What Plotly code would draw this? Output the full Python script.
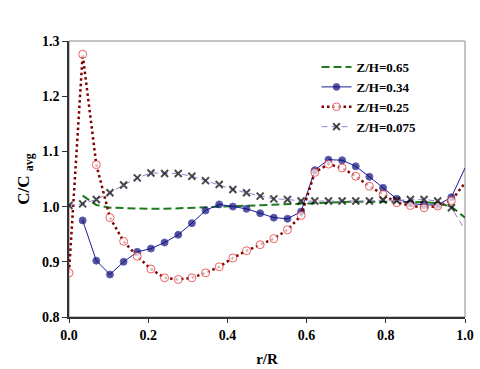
import plotly.graph_objs as go

# radial positions r/R (30 stations)
r_pos = [0.0, 0.0345, 0.069, 0.1034, 0.1379, 0.1724, 0.2069, 0.2414, 0.2759, 0.3103,
         0.3448, 0.3793, 0.4138, 0.4483, 0.4828, 0.5172, 0.5517, 0.5862, 0.6207, 0.6552,
         0.6897, 0.7241, 0.7586, 0.7931, 0.8276, 0.8621, 0.8966, 0.9310, 0.9655, 1.0]

# C/Cavg for each height
zh_065 = [1.020, 1.003, 0.998, 0.997, 0.996, 0.996, 0.996, 0.997, 0.998, 0.999,
          1.000, 1.001, 1.002, 1.003, 1.004, 1.005, 1.006, 1.007, 1.008, 1.008,
          1.009, 1.009, 1.009, 1.009, 1.009, 1.008, 1.006, 1.000, 0.980]
zh_034 = [0.975, 0.902, 0.877, 0.900, 0.918, 0.924, 0.935, 0.949, 0.970, 0.993,
          1.004, 1.000, 0.996, 0.988, 0.980, 0.978, 0.991, 1.066, 1.085, 1.084,
          1.073, 1.054, 1.034, 1.014, 1.006, 1.003, 1.003, 1.017, 1.070]
zh_025 = [0.880, 1.276, 1.076, 0.980, 0.937, 0.910, 0.887, 0.871, 0.868, 0.871,
          0.880, 0.891, 0.907, 0.920, 0.931, 0.942, 0.958, 0.984, 1.062, 1.077,
          1.070, 1.055, 1.037, 1.022, 1.007, 1.002, 0.998, 1.001, 1.011, 1.043]
zh_0075 = [1.002, 1.005, 1.013, 1.025, 1.039, 1.052, 1.061, 1.060, 1.060, 1.055,
           1.047, 1.040, 1.031, 1.025, 1.019, 1.014, 1.013, 1.010, 1.010, 1.010,
           1.010, 1.010, 1.010, 1.012, 1.011, 1.013, 1.013, 1.010, 0.998, 0.958]

x_ticks = [0.0, 0.2, 0.4, 0.6, 0.8, 1.0]
y_ticks = [0.8, 0.9, 1.0, 1.1, 1.2, 1.3]

FONT = "Liberation Serif, Times New Roman, serif"


def hide_last(n, size):
    # the point sitting on r/R = 1 has no marker in the original
    return [size] * (n - 1) + [0]


fig = go.Figure()

fig.add_trace(
    go.Scatter(
        x=r_pos[1:],
        y=zh_065,
        mode="lines",
        name="Z/H=0.65",
        line=dict(color="#1e7a1e", width=2, dash="8px,4px"),
    )
)

fig.add_trace(
    go.Scatter(
        x=r_pos[1:],
        y=zh_034,
        mode="lines+markers",
        name="Z/H=0.34",
        line=dict(color="#1c1c9a", width=1),
        marker=dict(color="#0a0a70", size=hide_last(len(zh_034), 7), symbol="circle"),
    )
)

fig.add_trace(
    go.Scatter(
        x=r_pos,
        y=zh_025,
        mode="lines+markers",
        name="Z/H=0.25",
        line=dict(color="#800000", width=2.5, dash="2.5px,3px"),
        marker=dict(
            color="white",
            size=hide_last(len(zh_025), 8),
            symbol="circle",
            line=dict(color="#e8201e", width=1),
        ),
    )
)

fig.add_trace(
    go.Scatter(
        x=r_pos,
        y=zh_0075,
        mode="lines+markers",
        name="Z/H=0.075",
        line=dict(color="#9a7ad6", width=1, dash="6px,4px"),
        marker=dict(
            color="#000000",
            size=hide_last(len(zh_0075), 7),
            symbol="x-thin",
            line=dict(color="#000000", width=2),
        ),
    )
)

# grey frame round the plot area
fig.add_shape(
    type="rect", xref="paper", yref="paper", x0=0, x1=1, y0=0, y1=1,
    line=dict(color="#8a8a8a", width=1), layer="below",
)

fig.update_layout(
    width=480,
    height=369,
    margin=dict(l=69, r=15, t=41, b=52),
    paper_bgcolor="white",
    plot_bgcolor="white",
    font=dict(family=FONT, size=14, color="black"),
    showlegend=True,
    legend=dict(
        x=0.625, y=0.96, xanchor="left", yanchor="top",
        bgcolor="rgba(0,0,0,0)",
        font=dict(family=FONT, size=13, color="black", weight="bold"),
        itemwidth=30,
        tracegroupgap=0,
    ),
    xaxis=dict(
        range=[0, 1],
        automargin=False,
        tickvals=x_ticks,
        ticktext=[f"{v:.1f}" for v in x_ticks],
        showgrid=False,
        zeroline=False,
        showline=True,
        linecolor="#333",
        linewidth=1.5,
        ticks="outside",
        ticklen=4,
        tickcolor="#333",
        tickfont=dict(family=FONT, size=14, weight="bold"),
        title=dict(text="<b>r/R</b>", font=dict(family=FONT, size=15), standoff=12),
    ),
    yaxis=dict(
        range=[0.8, 1.3],
        automargin=False,
        tickvals=y_ticks,
        ticktext=[f"{v:.1f}" for v in y_ticks],
        showgrid=False,
        zeroline=False,
        showline=True,
        linecolor="#333",
        linewidth=1.5,
        ticks="outside",
        ticklen=5,
        tickcolor="#333",
        tickfont=dict(family=FONT, size=14, weight="bold"),
        title=dict(text="<b>C/C <sub>avg</sub></b>", font=dict(family=FONT, size=17), standoff=8),
    ),
)

# page body has a default 8px margin; drop it so the chart sits at the window origin
fig.write_html(
    "out.html",
    config={"displayModeBar": False},
    post_script="document.body.style.margin='0';",
)
